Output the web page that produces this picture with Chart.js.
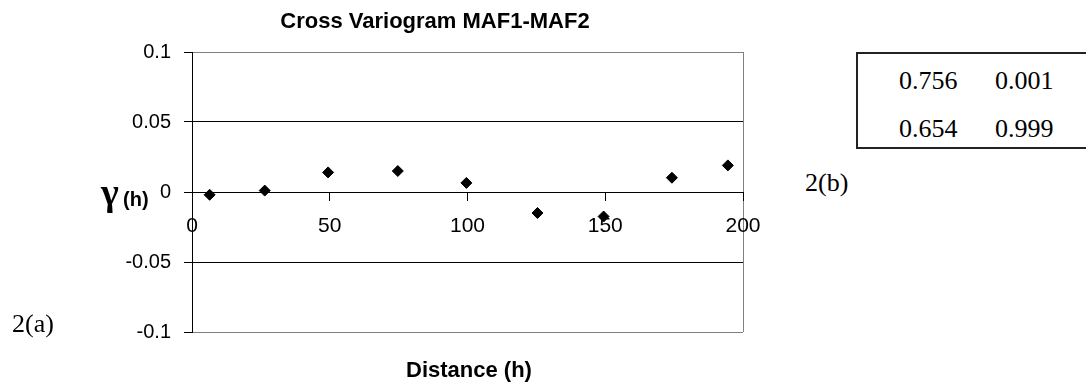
<!DOCTYPE html>
<html>
<head>
<meta charset="utf-8">
<script src="https://cdn.jsdelivr.net/npm/chart.js@4/dist/chart.umd.min.js"></script>
<style>
  body { margin: 0; background: #fff; }
  #page { position: relative; width: 1086px; height: 383px; overflow: hidden; background: #fff; }
  #chartBox { position: absolute; left: 0; top: 0; width: 800px; height: 383px; }
  .txt { position: absolute; white-space: nowrap; line-height: 1.2; color: #000; }
  .sans { font-family: "Liberation Sans", Arial, sans-serif; font-weight: bold; }
  .serif { font-family: "Liberation Serif", "Times New Roman", serif; }
  #matrix { position: absolute; left: 856px; top: 52px; width: 260px; height: 93px; border: 2px solid #222; }
</style>
</head>
<body>
<div id="page">
  <div id="chartBox"><canvas id="variogramChart"></canvas></div>
  <div class="txt sans" style="left:235px; top:8px; width:400px; text-align:center; font-size:22px;">Cross Variogram MAF1-MAF2</div>
  <div class="txt sans" style="left:319px; top:357px; width:300px; text-align:center; font-size:22px;">Distance (h)</div>
  <div class="txt serif" style="left:101px; top:170px; font-size:38px; font-weight:bold;">&gamma;</div>
  <div class="txt sans" style="left:123px; top:187px; font-size:20px;">(h)</div>
  <div class="txt serif" style="left:12px; top:308px; font-size:26px;">2(a)</div>
  <div class="txt serif" style="left:805px; top:167px; font-size:26px;">2(b)</div>
  <div id="matrix"></div>
  <div id="cells"></div>
</div>
<script>
// cross variogram points
const distance = [6.4, 26.4, 49.4, 74.7, 99.6, 125.4, 149.4, 174.2, 194.5];
const gammaValues = [-0.002, 0.001, 0.014, 0.015, 0.0065, -0.015, -0.0175, 0.0102, 0.019];

const xTickLabels = ['0', '50', '100', '150', '200'];
const yTickLabels = ['-0.1', '-0.05', '0', '0.05', '0.1'];

// 2(b) table
const matrixRows = [
    ['0.756', '0.001'],
    ['0.654', '0.999']
];

const cells = document.getElementById('cells');
matrixRows.forEach((row, r) => {
    row.forEach((val, c) => {
        const d = document.createElement('div');
        d.className = 'txt serif';
        d.style.fontSize = '26px';
        d.style.left = (899 + c * 96) + 'px';
        d.style.top = (65 + r * 47.5) + 'px';
        d.textContent = val;
        cells.appendChild(d);
    });
});

const points = distance.map((d, i) => ({ x: d, y: gammaValues[i] }));

const ctx = document.getElementById('variogramChart').getContext('2d');
new Chart(ctx, {
    type: 'scatter',
    data: {
        datasets: [{
            data: points,
            pointStyle: 'rectRot',
            pointRadius: 5.5,
            pointBackgroundColor: '#000',
            pointBorderColor: '#000',
            pointBorderWidth: 1
        }]
    },
    options: {
        responsive: true,
        maintainAspectRatio: false,
        animation: false,
        layout: { padding: { left: 0, right: 57, top: 52, bottom: 51 } },
        plugins: { legend: { display: false }, tooltip: { enabled: false } },
        scales: {
            x: {
                type: 'linear',
                position: { y: 0 },
                min: 0,
                max: 200,
                ticks: {
                    stepSize: 50,
                    color: '#000',
                    padding: 14,
                    font: { family: 'Liberation Sans', size: 21 },
                    callback: (v, i) => xTickLabels[i]
                },
                grid: {
                    color: c => (c.tick && c.tick.value === 200 ? '#808080' : 'rgba(0,0,0,0)'),
                    tickColor: '#000',
                    tickLength: 8,
                    lineWidth: 1
                },
                border: { display: true, color: '#000', width: 1 }
            },
            y: {
                min: -0.1,
                max: 0.1,
                afterFit: scale => { scale.width = 192; },
                ticks: {
                    stepSize: 0.05,
                    color: '#000',
                    padding: 13,
                    font: { family: 'Liberation Sans', size: 20 },
                    callback: (v, i) => yTickLabels[i]
                },
                grid: {
                    color: c => (Math.abs(c.tick.value) > 0.09 ? '#808080' : '#000'),
                    tickColor: '#000',
                    tickLength: 8,
                    lineWidth: 1
                },
                border: { color: '#000', width: 1 }
            }
        }
    }
});
</script>
</body>
</html>
